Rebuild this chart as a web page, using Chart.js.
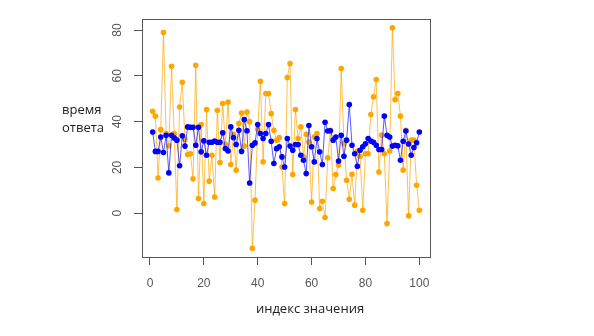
<!DOCTYPE html>
<html>
<head>
<meta charset="utf-8">
<script src="https://cdn.jsdelivr.net/npm/chart.js@4"></script>
<style>
  html, body { margin: 0; padding: 0; background: #fff; }
  #wrap { width: 594px; height: 336px; position: relative; }
</style>
</head>
<body>
<div id="wrap"><canvas id="chart"></canvas></div>
<script>
// данные: индекс значения и время ответа для двух серий
const indices = Array.from({ length: 100 }, (_, k) => k + 1);

const orangeValues = [
  44.5, 42.4, 15.4, 36.5, 78.9, 34.8, 29.4, 64.2, 34.8, 1.6,
  46.4, 57.2, 32.3, 25.6, 26.0, 15.0, 64.6, 6.4, 38.7, 4.2,
  45.3, 14.0, 25.3, 7.1, 45.0, 22.1, 47.9, 30.1, 48.6, 21.3,
  34.5, 18.8, 39.2, 43.8, 29.3, 44.2, 40.0, -15.3, 5.7, 36.7,
  57.6, 22.4, 52.3, 52.3, 43.5, 36.2, 31.9, 33.0, 20.2, 4.2,
  59.3, 65.4, 16.9, 45.3, 32.6, 37.7, 24.6, 34.5, 31.1, 4.9,
  33.3, 34.8, 2.0, 5.2, -1.9, 24.2, 36.2, 10.8, 16.9, 21.0,
  63.2, 30.4, 14.4, 6.1, 17.0, 3.5, 27.2, 24.9, 1.3, 26.0,
  26.0, 43.1, 50.8, 58.4, 18.0, 34.1, 26.0, -4.5, 27.2, 81.0,
  49.6, 52.3, 42.4, 18.8, 36.2, -1.2, 32.0, 32.0, 12.2, 1.3
];

const blueValues = [
  35.5, 27.0, 27.0, 33.3, 26.5, 34.0, 17.6, 34.0, 32.9, 31.9,
  20.7, 33.8, 29.3, 37.7, 37.5, 37.5, 29.7, 37.5, 26.8, 31.6,
  25.3, 31.0, 31.0, 31.5, 31.0, 31.0, 35.1, 28.2, 27.2, 37.7,
  33.0, 30.0, 36.2, 27.0, 40.9, 36.0, 13.2, 29.7, 30.7, 38.7,
  34.8, 32.6, 34.8, 38.7, 31.4, 21.7, 28.2, 29.0, 24.6, 20.2,
  32.6, 29.3, 27.5, 30.0, 30.0, 25.3, 23.1, 17.3, 38.3, 29.0,
  22.4, 32.6, 26.8, 21.3, 39.7, 35.9, 36.0, 31.9, 33.3, 22.8,
  34.0, 24.9, 31.9, 47.5, 29.7, 26.0, 20.5, 27.5, 29.0, 30.3,
  32.6, 31.5, 31.0, 29.7, 27.8, 27.8, 42.4, 34.0, 33.3, 29.3,
  29.7, 29.4, 23.1, 31.4, 35.9, 30.2, 25.3, 28.7, 30.8, 35.5
];

const xTicks = [0, 20, 40, 60, 80, 100];
const yTicks = [0, 20, 40, 60, 80];

const xTitle = 'индекс значения';
const yTitle = ['время', 'ответа'];

const toPoints = vals => vals.map((v, k) => ({ x: indices[k], y: v }));

// рамка, подписи оси Y и заголовки в стиле R
const rFrame = {
  id: 'rFrame',
  afterDraw(chart) {
    const { ctx, chartArea: a, scales } = chart;
    ctx.save();
    ctx.strokeStyle = '#555';
    ctx.lineWidth = 1;
    ctx.strokeRect(Math.round(a.left) + 0.5, Math.round(a.top) + 0.5,
      Math.round(a.right - a.left), Math.round(a.bottom - a.top));

    // подписи делений оси Y, повернутые
    ctx.fillStyle = '#555';
    ctx.font = '12px "Liberation Sans", Arial, sans-serif';
    ctx.textAlign = 'center';
    ctx.textBaseline = 'middle';
    yTicks.forEach(v => {
      const py = scales.y.getPixelForValue(v);
      ctx.save();
      ctx.translate(118, py);
      ctx.rotate(-Math.PI / 2);
      ctx.fillText(String(v), 0, 0);
      ctx.restore();
    });

    ctx.fillStyle = '#222';
    ctx.font = '13px "Open Sans", "Noto Sans", sans-serif';
    ctx.textAlign = 'left';
    ctx.fillText(yTitle[0], 62, 110);
    ctx.fillText(yTitle[1], 62, 128);
    ctx.textAlign = 'center';
    ctx.fillText(xTitle, 310, 309);
    ctx.restore();
  }
};

new Chart(document.getElementById('chart'), {
  type: 'line',
  data: {
    datasets: [
      {
        label: 'blue',
        data: toPoints(blueValues),
        borderColor: 'rgba(0, 0, 255, 0.65)',
        backgroundColor: '#0000ff',
        borderWidth: 1,
        pointRadius: 2.8,
        pointBorderWidth: 0,
        tension: 0
      },
      {
        label: 'orange',
        data: toPoints(orangeValues),
        borderColor: 'rgba(255, 165, 0, 0.7)',
        backgroundColor: '#ffa500',
        borderWidth: 1,
        pointRadius: 2.8,
        pointBorderWidth: 0,
        tension: 0
      }
    ]
  },
  options: {
    responsive: true,
    maintainAspectRatio: false,
    animation: false,
    layout: { padding: { left: 0, top: 19, right: 164, bottom: 0 } },
    plugins: {
      legend: { display: false },
      tooltip: { enabled: false }
    },
    scales: {
      x: {
        type: 'linear',
        min: -2.96,
        max: 103.96,
        afterBuildTicks: s => { s.ticks = xTicks.map(v => ({ value: v })); },
        afterFit: s => { s.height = 79; },
        border: { display: false },
        grid: { display: true, drawOnChartArea: false, drawTicks: true, tickLength: 8, color: '#555', lineWidth: 1 },
        ticks: {
          color: '#555',
          padding: 11,
          maxRotation: 0,
          font: { family: '"Liberation Sans", Arial, sans-serif', size: 12 }
        }
      },
      y: {
        type: 'linear',
        min: -19.15,
        max: 84.85,
        afterBuildTicks: s => { s.ticks = yTicks.map(v => ({ value: v })); },
        afterFit: s => { s.width = 142; },
        border: { display: false },
        grid: { display: true, drawOnChartArea: false, drawTicks: true, tickLength: 8, color: '#555', lineWidth: 1 },
        ticks: { display: false }
      }
    }
  },
  plugins: [rFrame]
});
</script>
</body>
</html>
